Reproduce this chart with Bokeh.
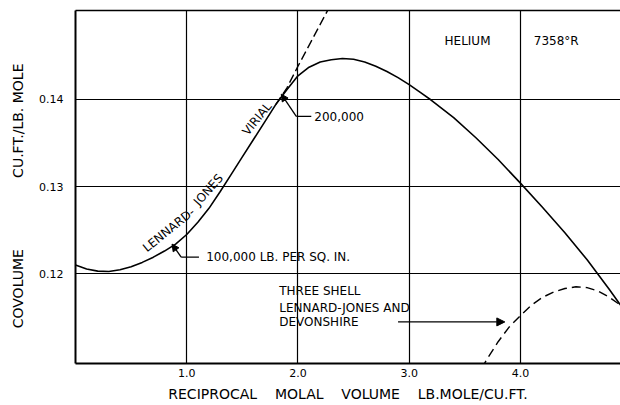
from bokeh.plotting import figure
from bokeh.models import FixedTicker, LinearAxis, Arrow, NormalHead, Range1d
from bokeh.core.properties import value
from bokeh.embed import file_html
from bokeh.resources import INLINE

FONT = "DejaVu Sans"
NB = "\u00a0"

# ---- data ----
# solid curve (covolume)
solid_x = [0.0, 0.1, 0.2, 0.3, 0.4, 0.5, 0.6, 0.7, 0.8, 0.9,
           1.0, 1.1, 1.2, 1.3, 1.4, 1.5, 1.6, 1.7, 1.8, 1.9,
           2.0, 2.1, 2.2, 2.3, 2.4, 2.5, 2.6, 2.7, 2.8, 2.9,
           3.0, 3.1, 3.2, 3.4, 3.6, 3.8, 4.0, 4.2, 4.4, 4.6,
           4.8, 4.9]
solid_y = [0.1210, 0.12055, 0.1203, 0.12025, 0.12045, 0.1208, 0.1213, 0.1219, 0.1226, 0.1234,
           0.1245, 0.1259, 0.1275, 0.1294, 0.1314, 0.1334, 0.1354, 0.1374, 0.1394, 0.1411,
           0.1427, 0.1437, 0.1443, 0.14455, 0.1447, 0.1446, 0.1443, 0.1438, 0.1432, 0.1425,
           0.1417, 0.1408, 0.1399, 0.1379, 0.1356, 0.1331, 0.1304, 0.1276, 0.1247, 0.1216,
           0.1182, 0.1164]

# Lennard-Jones virial (dashed continuation)
virial_x = [1.8, 1.9, 2.0, 2.1, 2.2, 2.3]
virial_y = [0.1394, 0.1413, 0.1438, 0.1462, 0.1486, 0.1510]

# three shell Lennard-Jones and Devonshire (dashed)
shell_x = [3.65, 3.7, 3.8, 3.9, 4.0, 4.1, 4.2, 4.3, 4.4, 4.5, 4.6, 4.7, 4.8, 4.9]
shell_y = [0.1091, 0.1102, 0.1122, 0.1139, 0.1152, 0.1164, 0.1173, 0.1179, 0.1183, 0.1185,
           0.1184, 0.1180, 0.1173, 0.1164]

x_ticks = [1.0, 2.0, 3.0, 4.0]
x_tick_labels = ["1.0", "2.0", "3.0", "4.0"]
y_ticks = [0.12, 0.13, 0.14]
y_tick_labels = ["0.12", "0.13", "0.14"]

x_title_words = ["RECIPROCAL", "MOLAL", "VOLUME", "LB.MOLE/CU.FT."]
y_title_parts = ["COVOLUME", "CU.FT./LB. MOLE"]

# annotation texts
ann_text = ["HELIUM", "7358°R", "200,000", "100,000 LB. PER SQ. IN.",
            "THREE SHELL", "LENNARD-JONES AND", "DEVONSHIRE"]
ann_x = [3.318, 4.12, 2.147, 1.175, 1.832, 1.832, 1.832]
ann_y = [0.14672, 0.14672, 0.13802, 0.12191, 0.11802, 0.11612, 0.11447]

# label along the virial curve
curve_label_text = ["LENNARD-", "JONES", "VIRIAL"]
curve_label_x = [1.057, 1.084, 1.632]
curve_label_y = [0.12726, 0.12802, 0.13776]
curve_label_angle = [38.8, 48.5, 50.6]
curve_label_align = ["right", "left", "center"]

# leader arrows (annotation positions)
arrow200_x = [2.12, 1.985, 1.85]
arrow200_y = [0.13805, 0.13805, 0.1406]
arrow100_x = [1.11, 0.95, 0.868]
arrow100_y = [0.12191, 0.12191, 0.1234]
arrowshell_x = [2.90, 3.86]
arrowshell_y = [0.11447, 0.11447]

# ---- figure ----
p = figure(width=620, height=405,
           x_range=Range1d(0, 4.9), y_range=Range1d(0.1097, 0.1502),
           output_backend="svg", toolbar_location=None,
           min_border_left=75, min_border_right=0,
           min_border_top=10, min_border_bottom=42)
p.outline_line_color = None
p.background_fill_color = "white"
p.border_fill_color = "white"

for ax in (p.xaxis[0], p.yaxis[0]):
    ax.major_tick_in = 0
    ax.major_tick_out = 0
    ax.minor_tick_line_color = None
    ax.axis_line_color = "black"
    ax.axis_line_width = 2
    ax.major_label_text_font = FONT
    ax.major_label_text_font_size = "11px"
    ax.major_label_text_color = "black"
    ax.axis_label_text_font = FONT
    ax.axis_label_text_font_style = "normal"
    ax.axis_label_text_color = "black"
    ax.axis_label_text_font_size = "14px"

p.xaxis.ticker = FixedTicker(ticks=x_ticks)
p.xaxis.major_label_overrides = dict(zip(x_ticks, x_tick_labels))
p.yaxis.ticker = FixedTicker(ticks=y_ticks)
p.yaxis.major_label_overrides = dict(zip(y_ticks, y_tick_labels))

p.xaxis.major_label_standoff = 5
p.xaxis.axis_label = (NB * 3 + " ").join(x_title_words)
p.xaxis.axis_label_standoff = 6

p.yaxis.major_label_standoff = 12
p.yaxis.axis_label = y_title_parts[0] + " " + NB * 14 + " " + y_title_parts[1] + NB * 4
p.yaxis.axis_label_standoff = 10

top = LinearAxis(ticker=FixedTicker(ticks=[]), major_tick_in=0, major_tick_out=0,
                 minor_tick_line_color=None, major_label_text_font_size="0px",
                 major_label_standoff=0, axis_line_width=1.5, axis_line_color="black")
p.add_layout(top, "above")

for g in (p.xgrid[0], p.ygrid[0]):
    g.grid_line_color = "black"
    g.grid_line_width = 1.2

# curves
p.line(solid_x, solid_y, line_color="black", line_width=1.6, line_join="round")
p.line(virial_x, virial_y, line_color="black", line_width=1.4, line_dash="9 4")
p.line(shell_x, shell_y, line_color="black", line_width=1.4, line_dash="9 5")

# texts
p.text(x=ann_x, y=ann_y, text=ann_text, text_font=value(FONT), text_font_size="12px",
       text_align="left", text_baseline="middle", text_color="black")
for t, x, y, a, al in zip(curve_label_text, curve_label_x, curve_label_y,
                          curve_label_angle, curve_label_align):
    p.text(x=[x], y=[y], text=[t], angle=a, angle_units="deg",
           text_font=value(FONT), text_font_size="12px",
           text_align=al, text_baseline="middle", text_color="black")

# arrows
def bent_arrow(xs, ys):
    p.line(xs[:-1], ys[:-1], line_color="black", line_width=1.3)
    p.add_layout(Arrow(x_start=xs[-2], y_start=ys[-2], x_end=xs[-1], y_end=ys[-1],
                       line_color="black", line_width=1.3,
                       end=NormalHead(size=7, fill_color="black", line_color="black")))

bent_arrow(arrow200_x, arrow200_y)
bent_arrow(arrow100_x, arrow100_y)
p.add_layout(Arrow(x_start=arrowshell_x[0], y_start=arrowshell_y[0],
                   x_end=arrowshell_x[1], y_end=arrowshell_y[1],
                   line_color="black", line_width=1.3,
                   end=NormalHead(size=8, fill_color="black", line_color="black")))

open("out.html", "w").write(file_html(p, INLINE))
